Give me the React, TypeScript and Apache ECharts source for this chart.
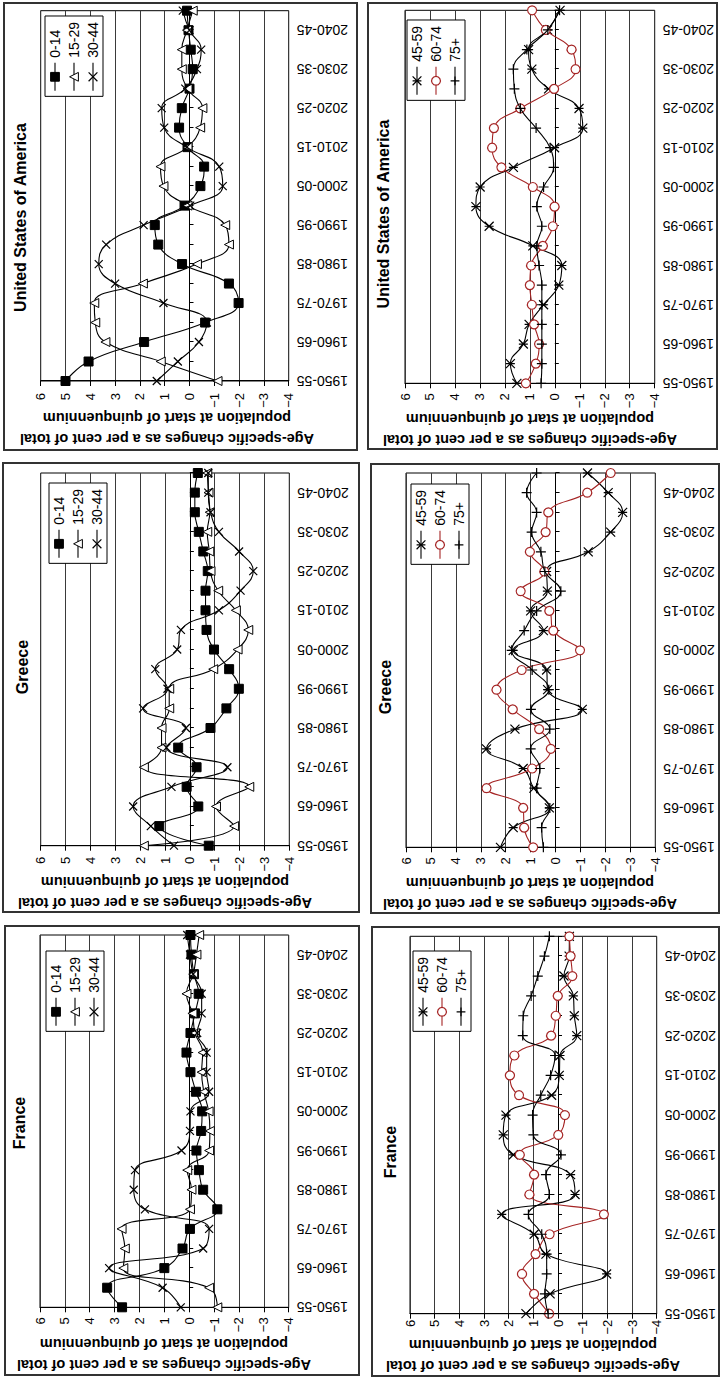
import React, { useEffect, useRef } from 'react';
import * as echarts from 'echarts';

// ---------- DATA ----------
const categories = [
  '1950-55', '1955-60', '1960-65', '1965-70', '1970-75', '1975-80', '1980-85', '1985-90',
  '1990-95', '1995-00', '2000-05', '2005-10', '2010-15', '2015-20', '2020-25', '2025-30',
  '2030-35', '2035-40', '2040-45', '2045-50',
];
const valueTickLabels = ['\u22124', '\u22123', '\u22122', '\u22121', '0', '1', '2', '3', '4', '5', '6'];
const countries = ['France', 'Greece', 'United States of America'];
const youngGroups = ['0-14', '15-29', '30-44'];
const oldGroups = ['45-59', '60-74', '75+'];
const axisTitleText = 'Age-specific changes as a per cent of total\npopulation at start of quinquennium';

const france0014 = [2.7, 3.3, 1.0, 0.27, -0.03, -1.13, -0.56, -0.39, -0.29, -0.48, -0.52, -0.27, -0.05, 0.11, -0.05, -0.23, -0.38, -0.19, -0.09, -0.05];
const france1529 = [-1.13, -0.8, 2.65, 2.59, 2.72, -0.03, -0.09, 0.08, -0.8, -0.83, -0.78, -0.59, -0.5, -0.54, -0.23, -0.13, 0.11, -0.16, -0.29, -0.4];
const france3044 = [0.34, 1.07, 3.22, -0.56, -0.8, 1.78, 2.23, 2.18, 0.31, -0.03, -0.05, -0.8, -0.7, -0.7, -0.32, -0.5, -0.5, -0.16, -0.03, 0.08];
const france4559 = [1.3, 0.32, -1.97, 0.49, 0.97, 2.28, -0.69, -0.51, 1.81, 2.22, 2.11, 0.26, -0.05, -0.08, -0.76, -0.66, -0.62, -0.24, -0.45, -0.46];
const france6074 = [0.36, 0.97, 1.46, 0.91, 0.34, -1.86, 1.16, 0.97, 1.55, -0.01, -0.28, 1.58, 1.95, 1.77, 0.28, 0.09, 0.01, -0.58, -0.51, -0.46];
const france75 = [0.4, 0.53, 0.46, 0.46, 0.66, 1.2, 0.35, 0.49, -0.12, 1.0, 1.03, 0.7, 0.3, 0.12, 1.43, 1.41, 1.09, 0.82, 0.55, 0.35];

const greece0014 = [-0.76, 1.23, -0.34, 0.13, -0.27, 0.47, -0.83, -1.47, -1.97, -1.58, -0.97, -0.67, -0.63, -0.63, -0.72, -0.54, -0.36, -0.2, -0.2, -0.32];
const greece1529 = [1.85, -1.78, -1.05, -2.39, 1.85, 1.14, 1.14, 0.83, 0.83, -0.94, -1.92, -2.35, -1.85, -1.14, -0.83, -0.78, -0.7, -0.8, -0.75, -0.7];
const greece3044 = [0.64, 1.57, 2.28, 0.74, -1.51, 0.94, 0.16, 1.88, 0.9, 1.39, 0.51, 0.36, -1.17, -2.04, -2.55, -1.98, -1.17, -0.83, -0.74, -0.74];
const greece4559 = [2.21, 1.7, 0.25, 0.87, 1.3, 2.77, 1.63, -1.07, 0.32, 0.36, 1.7, 0.49, 1.0, 0.33, 0.36, -1.31, -2.21, -2.69, -2.11, -1.28];
const greece6074 = [0.9, 1.26, 1.3, 2.77, 0.94, 0.19, 0.66, 1.72, 2.37, 1.36, -0.98, 0.09, 0.25, 1.4, 0.45, 1.03, 0.4, 0.29, -1.27, -2.21];
const greece75 = [0.49, 0.56, 0.23, 0.76, 0.63, 1.0, 0.23, 0.99, 0.27, 0.94, 1.76, 1.26, 0.76, -0.21, 0.43, 0.59, 0.96, 0.76, 1.16, 0.76];

const usa0014 = [5.0, 4.07, 1.83, -0.63, -1.98, -1.59, 0.3, 1.26, 1.4, 0.2, -0.44, -0.59, 0.08, 0.42, 0.31, 0.0, -0.13, -0.05, 0.04, 0.1];
const usa1529 = [-1.13, 1.16, 3.39, 3.8, 3.84, 1.88, -0.3, -1.59, -1.44, 0.08, 1.05, 1.17, 0.08, -0.43, -0.52, 0.08, 0.31, 0.31, 0.1, -0.13];
const usa3044 = [1.32, 0.47, -0.38, -0.7, 1.05, 3.0, 3.66, 3.36, 1.85, -0.03, -1.34, -1.2, 0.11, 1.02, 1.12, 0.17, -0.3, -0.47, 0.0, 0.27];
const usa4559 = [1.52, 1.78, 1.26, 1.03, 0.45, -0.16, -0.28, 0.88, 2.63, 3.16, 2.99, 1.66, 0.01, -1.12, -0.97, 0.25, 0.92, 1.05, 0.29, -0.21];
const usa6074 = [1.16, 0.76, 0.63, 0.83, 0.92, 1.0, 0.95, 0.48, 0.08, 0.01, 0.88, 2.14, 2.51, 2.44, 1.38, 0.03, -0.83, -0.67, 0.36, 0.91];
const usa75 = [0.55, 0.52, 0.52, 0.52, 0.52, 0.52, 0.63, 0.72, 0.52, 0.72, 0.45, 0.05, 0.19, 0.75, 1.38, 1.62, 1.66, 1.12, 0.28, -0.19];

// ---------- LAYOUT & STYLE ----------
const W = 1378;
const H = 721;
const FONT = '"Liberation Sans", Arial, Helvetica, sans-serif';
const RED = '#A52424';

const markerStyles: Record<string, any> = {
  '0-14': { symbol: 'rect', size: 9, fill: '#000', stroke: '#000', bw: 1, line: '#000' },
  '15-29': { symbol: 'triangle', size: 9, fill: '#fff', stroke: '#000', bw: 1, line: '#000' },
  '30-44': { symbol: 'path://M0,0L10,10M10,0L0,10', size: 8, fill: '#000', stroke: '#000', bw: 1.2, line: '#000' },
  '45-59': { symbol: 'path://M0,0L10,10M10,0L0,10M5,0L5,10', size: 9, fill: '#000', stroke: '#000', bw: 1.2, line: '#000' },
  '60-74': { symbol: 'circle', size: 9, fill: '#fff', stroke: RED, bw: 1.2, line: RED },
  '75+': { symbol: 'path://M5,0L5,10M0,5L10,5', size: 10, fill: '#000', stroke: '#000', bw: 1.2, line: '#000' },
};

// panel geometry in the landscape frame (before the page rotation)
const panelLayouts = [
  { box: [3, 5, 449, 354], grid: [70.7, 40, 372.3, 248.7], title: [255, 19], legend: [951, 46], axisTitle: [24, 164], labelGap: 10 },
  { box: [2, 372, 449, 347], grid: [64.3, 410, 377.4, 246.7], title: [226, 390], legend: [951, 413], axisTitle: [23, 533], labelGap: 6 },
  { box: [466, 3, 449, 356], grid: [532.3, 40.7, 372.7, 248.6], title: [711, 22], legend: [483, 49], axisTitle: [485.5, 165], labelGap: 11 },
  { box: [465, 371, 449, 348], grid: [530.7, 406, 374.3, 249.3], title: [691, 385], legend: [484, 411], axisTitle: [485, 530], labelGap: 10 },
  { box: [928, 4, 447, 353], grid: [997, 40.7, 370.3, 248], title: [1160.5, 20.5], legend: [16, 45], axisTitle: [950, 167], labelGap: 12 },
  { box: [929, 368, 446, 349], grid: [994.7, 405, 373, 249.7], title: [1164, 383], legend: [20, 407], axisTitle: [949, 530], labelGap: 10 },
];

const panelContent = [
  { country: countries[0], groups: youngGroups, values: [france0014, france1529, france3044] },
  { country: countries[0], groups: oldGroups, values: [france4559, france6074, france75] },
  { country: countries[1], groups: youngGroups, values: [greece0014, greece1529, greece3044] },
  { country: countries[1], groups: oldGroups, values: [greece4559, greece6074, greece75] },
  { country: countries[2], groups: youngGroups, values: [usa0014, usa1529, usa3044] },
  { country: countries[2], groups: oldGroups, values: [usa4559, usa6074, usa75] },
];

function buildOption() {
  const grid: any[] = [];
  const xAxis: any[] = [];
  const yAxis: any[] = [];
  const series: any[] = [];
  const legend: any[] = [];
  const graphic: any[] = [];

  panelContent.forEach((p, g) => {
    const L = panelLayouts[g];
    grid.push({
      left: L.grid[0], top: L.grid[1], width: L.grid[2], height: L.grid[3],
      show: true, borderColor: '#000', borderWidth: 1, backgroundColor: 'transparent',
      containLabel: false, outerBoundsMode: 'none',
    });
    // labelled category axis at the low edge
    xAxis.push({
      type: 'category', gridIndex: g, data: categories, boundaryGap: false, position: 'bottom',
      axisLine: { show: false, onZero: false },
      axisTick: { show: false },
      splitLine: { show: false },
      axisLabel: { interval: 1, rotate: 90, fontSize: 14, color: '#000', fontFamily: FONT, margin: 8 },
    });
    // category axis line crossing at zero with tick marks
    xAxis.push({
      type: 'category', gridIndex: g, data: categories, boundaryGap: false, position: 'top',
      axisLine: { show: true, onZero: true, lineStyle: { color: '#000', width: 1 } },
      axisTick: { show: true, inside: true, length: 4, interval: 0, lineStyle: { color: '#000' } },
      axisLabel: { show: false },
      splitLine: { show: false },
    });
    yAxis.push({
      type: 'value', gridIndex: g, min: -4, max: 6, interval: 1,
      axisLine: { show: true, onZero: false, lineStyle: { color: '#000', width: 1 } },
      axisTick: { show: true, length: 5, lineStyle: { color: '#000' } },
      splitLine: { show: true, lineStyle: { color: '#3a3a3a', width: 1 } },
      axisLabel: {
        fontSize: 13, color: '#000', fontFamily: FONT, margin: L.labelGap,
        formatter: (v: number) => valueTickLabels[Math.round(v) + 4],
      },
    });
    p.groups.forEach((name, k) => {
      const st = markerStyles[name];
      series.push({
        type: 'line', name, data: p.values[k], xAxisIndex: 2 * g, yAxisIndex: g,
        smooth: 0.45, symbol: st.symbol, symbolSize: st.size, showSymbol: true,
        lineStyle: { color: st.line, width: 1.1 },
        itemStyle: { color: st.fill, borderColor: st.stroke, borderWidth: st.bw },
        emphasis: { disabled: true }, z: 3 + k,
      });
    });
    legend.push({
      orient: 'vertical', right: L.legend[0], top: L.legend[1],
      data: p.groups.map((name) => {
        const st = markerStyles[name];
        return {
          name,
          itemStyle: { color: st.fill, borderColor: st.stroke, borderWidth: st.bw },
          lineStyle: { color: st.line, width: 1.1 },
        };
      }),
      selectedMode: false, itemWidth: 28, itemHeight: 11, itemGap: 5,
      padding: [3, 6, 3, 5], borderColor: '#000', borderWidth: 1, backgroundColor: '#fff',
      textStyle: { fontSize: 14, color: '#000', fontFamily: FONT },
    });
    graphic.push({
      type: 'rect', silent: true,
      shape: { x: L.box[0], y: L.box[1], width: L.box[2], height: L.box[3] },
      style: { fill: 'none', stroke: '#333', lineWidth: 2 },
    });
    graphic.push({
      type: 'text', silent: true, x: L.title[0], y: L.title[1],
      style: {
        text: p.country, fill: '#000', font: `bold 16px ${FONT}`,
        align: 'center', verticalAlign: 'middle', textAlign: 'center', textVerticalAlign: 'middle',
      },
    });
    graphic.push({
      type: 'text', silent: true, x: L.axisTitle[0], y: L.axisTitle[1], rotation: Math.PI / 2,
      style: {
        text: axisTitleText, fill: '#000', font: `bold 14.5px ${FONT}`, lineHeight: 21,
        align: 'center', verticalAlign: 'middle', textAlign: 'center', textVerticalAlign: 'middle',
      },
    });
  });

  return {
    animation: false,
    backgroundColor: '#fff',
    textStyle: { fontFamily: FONT },
    grid, xAxis, yAxis, series, legend, graphic,
  };
}

export default function App() {
  const ref = useRef<HTMLDivElement>(null);
  useEffect(() => {
    if (!ref.current) return;
    const chart = echarts.init(ref.current, null, { renderer: 'svg', width: W, height: H });
    chart.setOption(buildOption() as any);
    return () => chart.dispose();
  }, []);
  return (
    <div style={{ position: 'fixed', left: 0, top: 0, width: 721, height: 1378, overflow: 'hidden', background: '#fff' }}>
      <div
        ref={ref}
        style={{
          position: 'absolute', left: 0, top: 0, width: W, height: H,
          transformOrigin: '0 0', transform: `translate(0px, ${W}px) rotate(-90deg)`,
        }}
      />
    </div>
  );
}
